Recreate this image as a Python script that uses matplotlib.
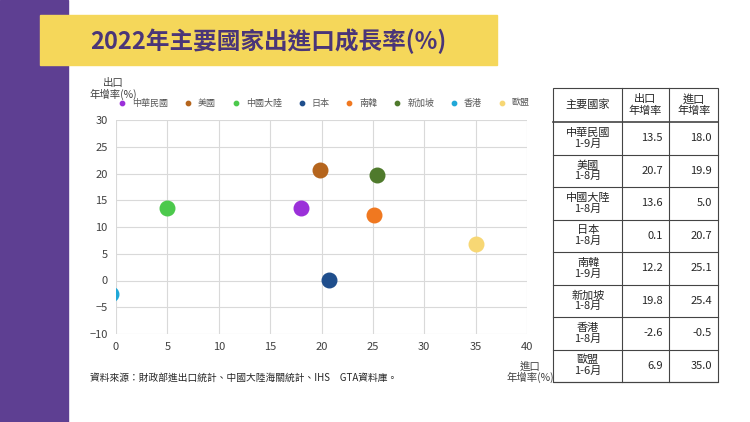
import matplotlib.pyplot as plt
from matplotlib.patches import Rectangle

plt.rcParams['font.family'] = ['Noto Sans CJK TC', 'DejaVu Sans']

countries = ['中華民國', '美國', '中國大陸', '日本', '南韓', '新加坡', '香港', '歐盟']
periods = ['1-9月', '1-8月', '1-8月', '1-8月', '1-9月', '1-8月', '1-8月', '1-6月']
export_growth = [13.5, 20.7, 13.6, 0.1, 12.2, 19.8, -2.6, 6.9]
import_growth = [18.0, 19.9, 5.0, 20.7, 25.1, 25.4, -0.5, 35.0]
colors = ['#9b30d9', '#b5651d', '#4cc94c', '#1f4e8c', '#f07820', '#4f7a2c', '#20a8d8', '#f7d774']

W, H = 750, 422
fig = plt.figure(figsize=(7.5, 4.22), dpi=100)
bg = fig.add_axes([0, 0, 1, 1])
bg.set_xlim(0, W)
bg.set_ylim(H, 0)
bg.axis('off')
bg.add_patch(Rectangle((0, 0), 68, H, color='#5e3f92'))
bg.add_patch(Rectangle((40, 15), 457, 50, color='#f5d75a'))
bg.text(268, 41, '2022年主要國家出進口成長率(%)', fontsize=17, color='#4a3578',
        ha='center', va='center', fontweight='bold')

# scatter
x0, x1, y0, y1 = 116, 527, 120, 334
ax = fig.add_axes([x0 / W, 1 - y1 / H, (x1 - x0) / W, (y1 - y0) / H])
for c, xv, yv, col in zip(countries, import_growth, export_growth, colors):
    ax.scatter(xv, yv, s=110, color=col, label=c, zorder=3)
ax.set_xlim(0, 40)
ax.set_ylim(-10, 30)
ax.set_xticks(range(0, 41, 5))
ax.set_yticks(range(-10, 31, 5))
ax.grid(color='#d9d9d9', linewidth=0.8)
for s in ax.spines.values():
    s.set_visible(False)
ax.tick_params(length=0, labelsize=8, colors='#404040', pad=6)
ax.legend(loc='lower center', bbox_to_anchor=(0.5, 1.02), ncol=8, frameon=False,
          fontsize=6.5, markerscale=0.3, handletextpad=0.1, columnspacing=1.2,
          labelcolor='#595959')
bg.text(113, 89, '出口\n年增率(%)', fontsize=7.5, ha='center', va='center', color='#404040', linespacing=1.0)
bg.text(530, 372, '進口\n年增率(%)', fontsize=7.5, ha='center', va='center', color='#404040', linespacing=1.0)
bg.text(90, 378, '資料來源：財政部進出口統計、中國大陸海關統計、IHS　GTA資料庫。', fontsize=7,
        va='center', color='#262626')

# table
cols = [553, 622, 669, 718]
top, head_h, row_h = 88, 34, 32.5
lw = 0.8
bg.add_patch(Rectangle((553, top), 165, head_h + row_h * 8, fill=False, lw=lw, ec='#444444'))
bg.text(588, top + head_h / 2, '主要國家', fontsize=8, ha='center', va='center', color='#262626')
bg.text(645, top + head_h / 2, '出口\n年增率', fontsize=8, ha='center', va='center', color='#262626', linespacing=1.1)
bg.text(694, top + head_h / 2, '進口\n年增率', fontsize=8, ha='center', va='center', color='#262626', linespacing=1.1)
for xc in cols[1:3]:
    bg.plot([xc, xc], [top, top + head_h + row_h * 8], color='#444444', lw=lw)
for i in range(9):
    y = top + head_h + i * row_h
    bg.plot([553, 718], [y, y], color='#444444', lw=lw if i else 1.2)
for i in range(8):
    yc = top + head_h + i * row_h + row_h / 2
    bg.text(588, yc, countries[i] + '\n' + periods[i], fontsize=8, ha='center', va='center',
            color='#262626', linespacing=1.1)
    bg.text(663, yc, '%.1f' % export_growth[i], fontsize=8, ha='right', va='center', color='#262626')
    bg.text(712, yc, '%.1f' % import_growth[i], fontsize=8, ha='right', va='center', color='#262626')

fig.savefig('out.png', dpi=100)
